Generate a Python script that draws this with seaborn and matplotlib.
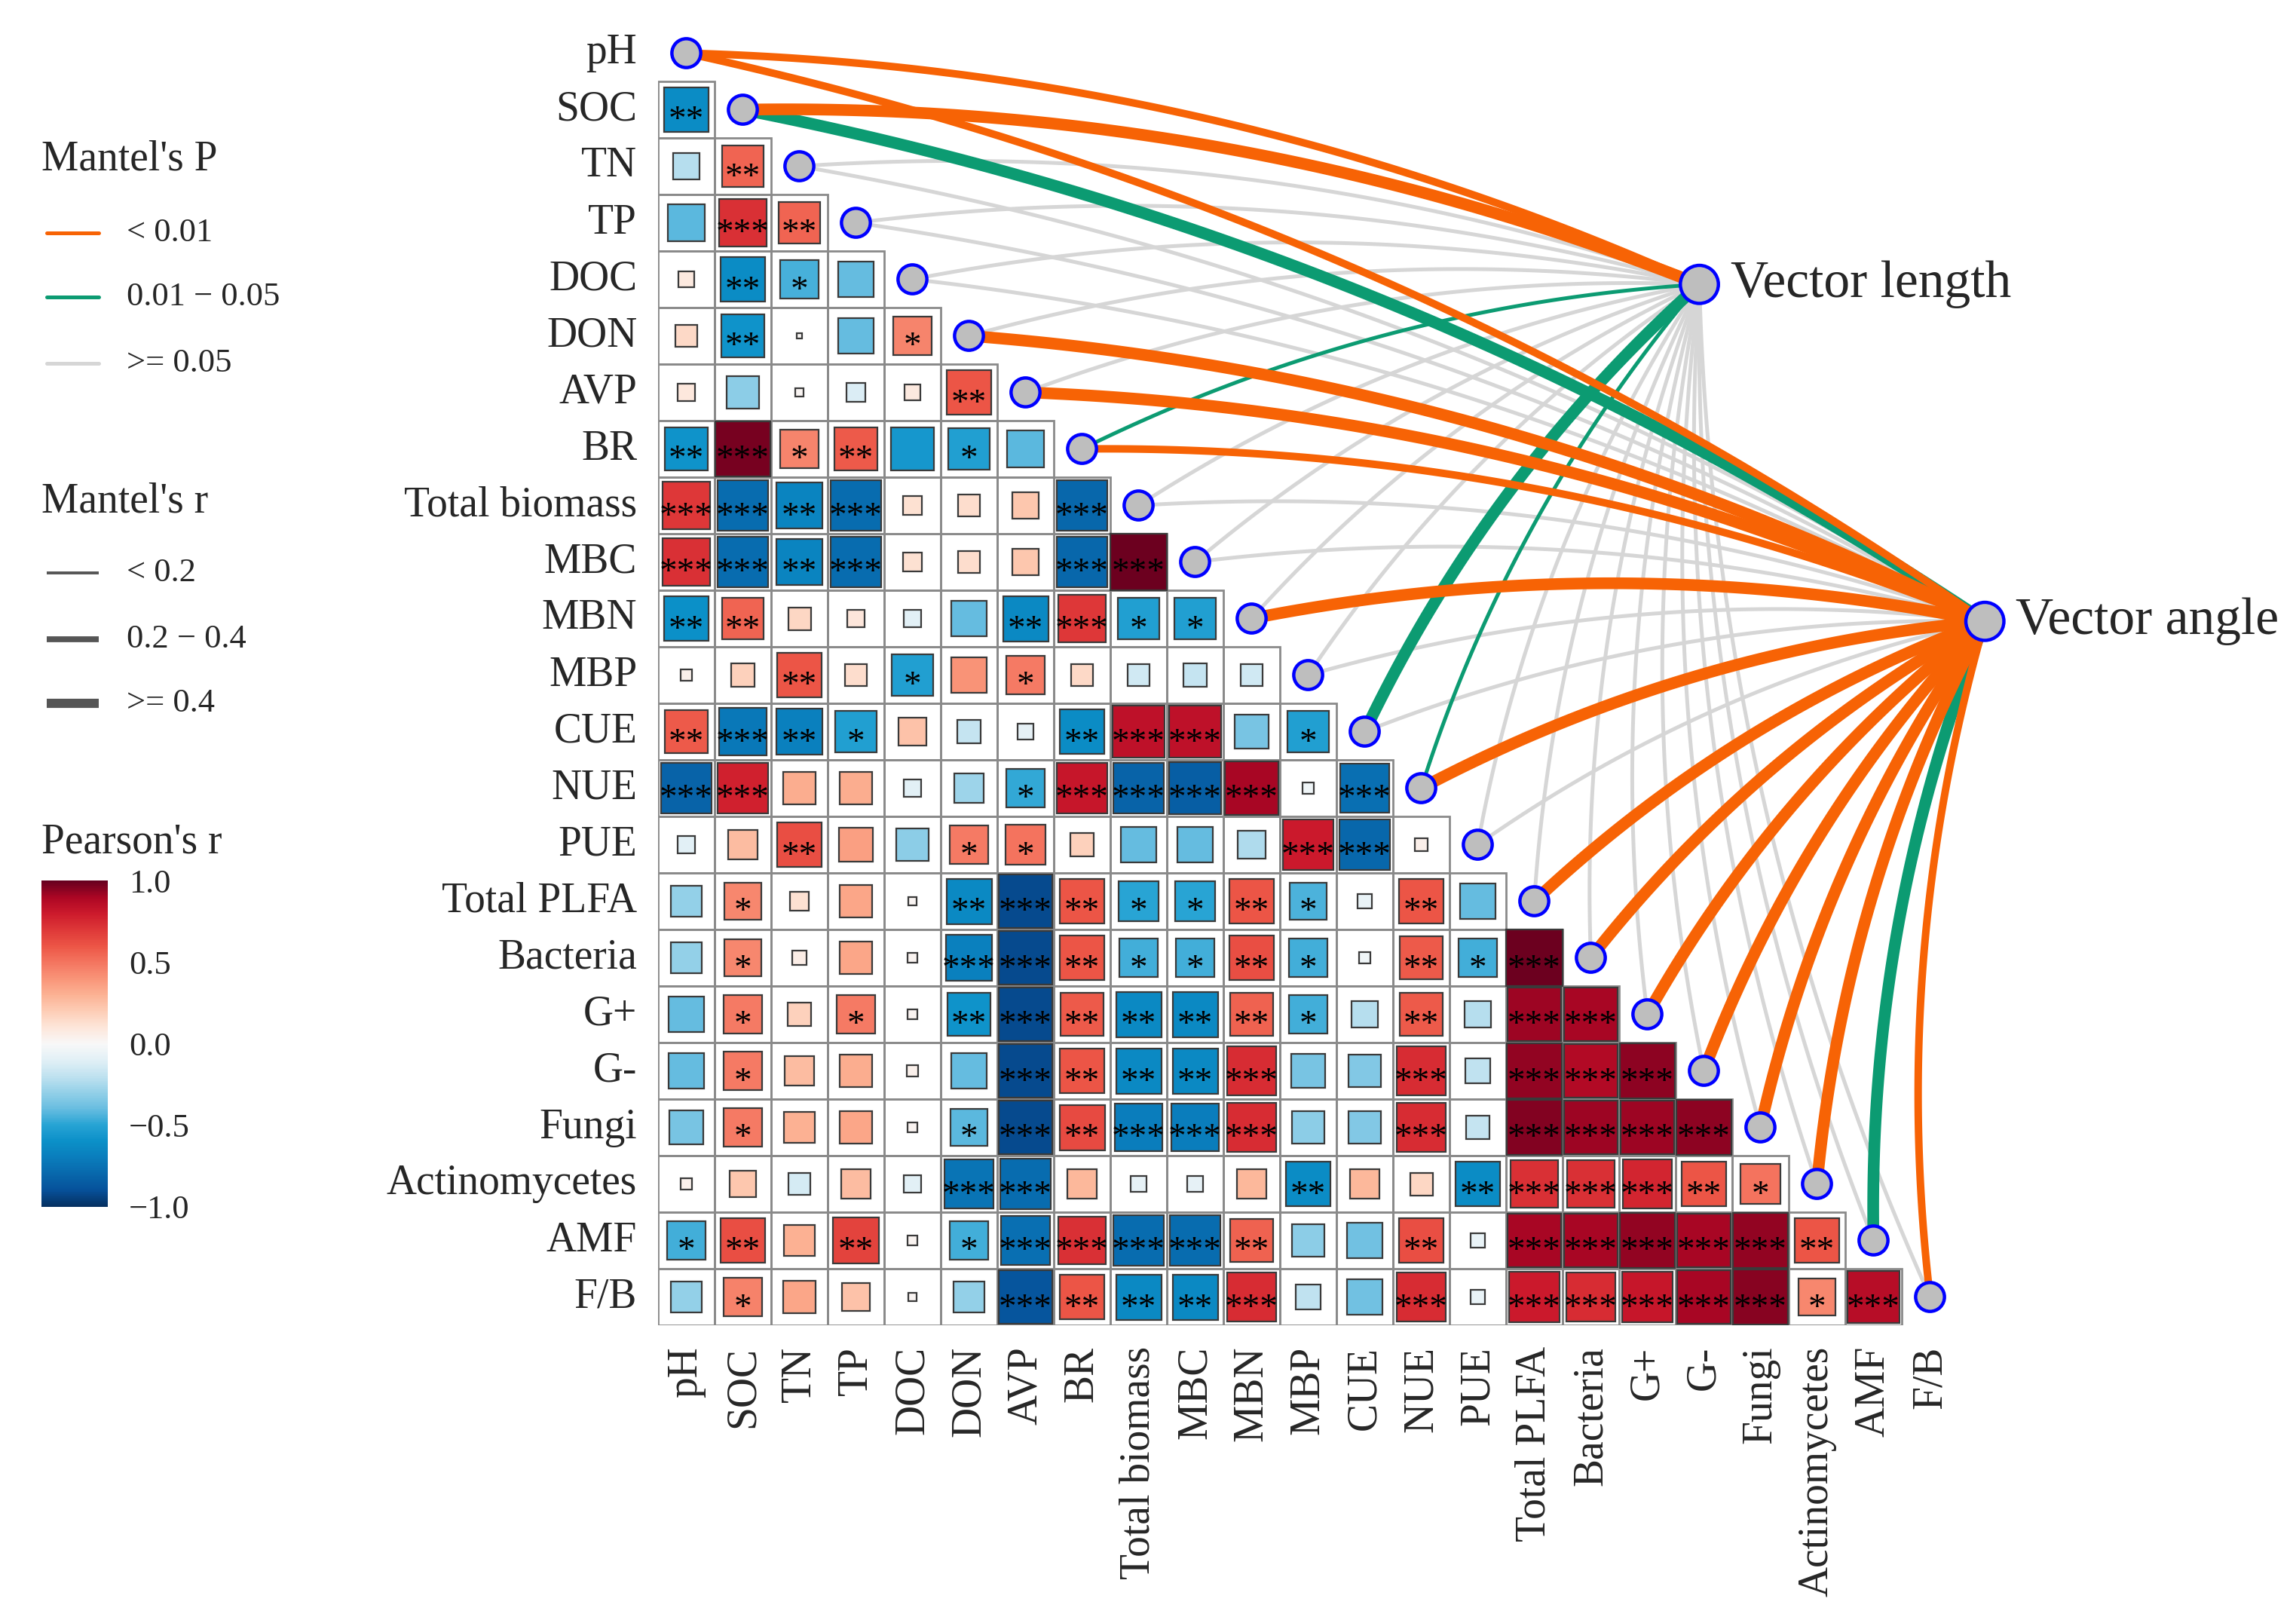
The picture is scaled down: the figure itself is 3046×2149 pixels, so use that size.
import numpy as np
import pandas as pd
import seaborn as sns
import matplotlib.pyplot as plt
from matplotlib.colors import ListedColormap, Normalize, LinearSegmentedColormap
from matplotlib.patches import Rectangle
from matplotlib.cm import ScalarMappable
from matplotlib.ticker import FuncFormatter

variables = ["pH", "SOC", "TN", "TP", "DOC", "DON", "AVP", "BR", "Total biomass",
             "MBC", "MBN", "MBP", "CUE", "NUE", "PUE", "Total PLFA", "Bacteria",
             "G+", "G-", "Fungi", "Actinomycetes", "AMF", "F/B"]

# Pearson's r, lower triangle, row by row (columns 0 .. row-1)
pearson_r = [
    [],
    [-0.62],
    [-0.22, 0.55],
    [-0.42, 0.72, 0.55],
    [0.08, -0.62, -0.45, -0.40],
    [0.15, -0.58, 0.01, -0.40, 0.45],
    [0.09, -0.32, 0.02, -0.12, 0.08, 0.60],
    [-0.58, 0.97, 0.45, 0.58, -0.56, -0.52, -0.42],
    [0.70, -0.78, -0.66, -0.78, 0.12, 0.14, 0.22, -0.80],
    [0.72, -0.78, -0.66, -0.78, 0.12, 0.14, 0.22, -0.80, 0.99],
    [-0.60, 0.55, 0.16, 0.10, -0.10, -0.40, -0.64, 0.70, -0.52, -0.52],
    [0.04, 0.18, 0.60, 0.14, -0.52, 0.40, 0.48, 0.15, -0.15, -0.18, -0.15],
    [0.58, -0.72, -0.68, -0.52, 0.24, -0.18, -0.08, -0.62, 0.84, 0.84, -0.36, -0.52],
    [-0.82, 0.78, 0.32, 0.32, -0.10, -0.28, -0.48, 0.82, -0.82, -0.84, 0.90, -0.04, -0.76],
    [-0.10, 0.26, 0.62, 0.36, -0.32, 0.48, 0.50, 0.18, -0.40, -0.40, -0.24, 0.80, -0.80, 0.05],
    [-0.30, 0.44, 0.12, 0.34, 0.02, -0.64, -0.92, 0.60, -0.50, -0.50, 0.60, -0.44, -0.07, 0.60, -0.40],
    [-0.30, 0.44, 0.06, 0.34, 0.03, -0.68, -0.92, 0.60, -0.46, -0.46, 0.62, -0.46, -0.04, 0.58, -0.46, 0.99],
    [-0.40, 0.48, 0.18, 0.48, 0.03, -0.58, -0.92, 0.58, -0.64, -0.64, 0.56, -0.46, -0.22, 0.58, -0.22, 0.92, 0.90],
    [-0.40, 0.48, 0.26, 0.32, 0.04, -0.40, -0.92, 0.60, -0.64, -0.64, 0.74, -0.36, -0.34, 0.74, -0.20, 0.93, 0.88, 0.94],
    [-0.36, 0.48, 0.30, 0.34, 0.03, -0.42, -0.92, 0.64, -0.70, -0.70, 0.74, -0.32, -0.34, 0.74, -0.18, 0.96, 0.92, 0.92, 0.94],
    [0.04, 0.22, -0.14, 0.26, -0.10, -0.74, -0.78, 0.28, -0.08, -0.08, 0.28, -0.62, 0.28, 0.16, -0.62, 0.72, 0.72, 0.76, 0.60, 0.50],
    [-0.46, 0.62, 0.30, 0.66, 0.03, -0.46, -0.76, 0.72, -0.78, -0.78, 0.56, -0.32, -0.38, 0.62, -0.07, 0.90, 0.90, 0.93, 0.90, 0.93, 0.60],
    [-0.30, 0.46, 0.34, 0.24, 0.02, -0.30, -0.88, 0.60, -0.64, -0.64, 0.74, -0.20, -0.38, 0.74, -0.07, 0.80, 0.74, 0.82, 0.90, 0.95, 0.44, 0.86],
]

# number of stars (0: ns, 1: p<0.05, 2: p<0.01, 3: p<0.001)
stars = [
    [],
    [2],
    [0, 2],
    [0, 3, 2],
    [0, 2, 1, 0],
    [0, 2, 0, 0, 1],
    [0, 0, 0, 0, 0, 2],
    [2, 3, 1, 2, 0, 1, 0],
    [3, 3, 2, 3, 0, 0, 0, 3],
    [3, 3, 2, 3, 0, 0, 0, 3, 3],
    [2, 2, 0, 0, 0, 0, 2, 3, 1, 1],
    [0, 0, 2, 0, 1, 0, 1, 0, 0, 0, 0],
    [2, 3, 2, 1, 0, 0, 0, 2, 3, 3, 0, 1],
    [3, 3, 0, 0, 0, 0, 1, 3, 3, 3, 3, 0, 3],
    [0, 0, 2, 0, 0, 1, 1, 0, 0, 0, 0, 3, 3, 0],
    [0, 1, 0, 0, 0, 2, 3, 2, 1, 1, 2, 1, 0, 2, 0],
    [0, 1, 0, 0, 0, 3, 3, 2, 1, 1, 2, 1, 0, 2, 1, 3],
    [0, 1, 0, 1, 0, 2, 3, 2, 2, 2, 2, 1, 0, 2, 0, 3, 3],
    [0, 1, 0, 0, 0, 0, 3, 2, 2, 2, 3, 0, 0, 3, 0, 3, 3, 3],
    [0, 1, 0, 0, 0, 1, 3, 2, 3, 3, 3, 0, 0, 3, 0, 3, 3, 3, 3],
    [0, 0, 0, 0, 0, 3, 3, 0, 0, 0, 0, 2, 0, 0, 2, 3, 3, 3, 2, 1],
    [1, 2, 0, 2, 0, 1, 3, 3, 3, 3, 2, 0, 0, 2, 0, 3, 3, 3, 3, 3, 2],
    [0, 1, 0, 0, 0, 0, 3, 2, 2, 2, 3, 0, 0, 3, 0, 3, 3, 3, 3, 3, 1, 3],
]

# Mantel tests against the two targets
mantel_targets = ["Vector length", "Vector angle"]
mantel_p_length = [0.002, 0.001, 0.35, 0.28, 0.42, 0.21, 0.18, 0.03, 0.46, 0.52, 0.14, 0.61,
                   0.02, 0.04, 0.33, 0.27, 0.31, 0.24, 0.29, 0.22, 0.38, 0.19, 0.26]
mantel_r_length = [0.32, 0.46, 0.05, 0.06, 0.03, 0.08, 0.09, 0.15, 0.02, 0.02, 0.10, 0.01,
                   0.42, 0.16, 0.04, 0.06, 0.05, 0.07, 0.06, 0.08, 0.04, 0.09, 0.07]
mantel_p_angle = [0.002, 0.02, 0.40, 0.30, 0.50, 0.001, 0.001, 0.004, 0.25, 0.30, 0.001, 0.20,
                  0.12, 0.001, 0.15, 0.001, 0.001, 0.001, 0.001, 0.001, 0.001, 0.015, 0.006]
mantel_r_angle = [0.30, 0.41, 0.08, 0.10, 0.05, 0.52, 0.50, 0.28, 0.12, 0.11, 0.55, 0.13,
                  0.14, 0.48, 0.12, 0.60, 0.58, 0.56, 0.55, 0.53, 0.47, 0.44, 0.33]

ORANGE = "#F76305"
GREEN = "#0C9B72"
GREY = "#D6D6D6"


def p_colour(p):
    if p < 0.01:
        return ORANGE
    if p < 0.05:
        return GREEN
    return GREY


def r_width(r):
    if r < 0.2:
        return 1.8
    if r < 0.4:
        return 3.6
    return 5.6


def curve(p0, p2, rad=0.1, n=80):
    # quadratic bezier bowing to the left of p0 -> p2 as seen on screen (y axis inverted)
    a = np.array([p0[0], -p0[1]])
    b = np.array([p2[0], -p2[1]])
    d = b - a
    c = (a + b) / 2 + rad * np.array([-d[1], d[0]])
    t = np.linspace(0, 1, n)[:, None]
    pts = (1 - t) ** 2 * a + 2 * t * (1 - t) * c + t ** 2 * b
    return pts[:, 0], -pts[:, 1]


if __name__ == "__main__":
    sns.set_theme(style="white")
    plt.rcParams['font.family'] = ['Liberation Serif', 'DejaVu Serif']

    n = len(variables)
    r_mat = np.zeros((n, n))
    s_mat = np.zeros((n, n), dtype=int)
    for i in range(n):
        for j, v in enumerate(pearson_r[i]):
            r_mat[i, j] = v
            s_mat[i, j] = stars[i][j]

    fig = plt.figure(figsize=(15.23, 10.745), dpi=200)
    ax = fig.add_axes([873 / 3046, 1 - 1758 / 2149, 1725 / 3046, 1725 / 2149])

    grid = pd.DataFrame(np.zeros((n, n)), index=variables, columns=variables)
    mask = np.triu(np.ones((n, n), dtype=bool))
    sns.heatmap(grid, mask=mask, cmap=ListedColormap(["white"]), cbar=False,
                linewidths=0, xticklabels=variables, yticklabels=variables, ax=ax)

    # r in [-1, 1] mapped linearly onto [0, 1]
    cmap = LinearSegmentedColormap.from_list("rdbu_ref", [
        (0.00, "#053061"), (0.05, "#06519a"), (0.10, "#0868ac"), (0.15, "#0a7dbc"),
        (0.20, "#0b90c8"), (0.25, "#27a3d4"), (0.30, "#68bde0"), (0.35, "#94d0e8"),
        (0.40, "#c0e2f0"), (0.45, "#e2f0f6"), (0.50, "#f8f8f8"), (0.55, "#fde6da"),
        (0.60, "#fdcdb6"), (0.65, "#fcb294"), (0.70, "#f99478"), (0.75, "#f47560"),
        (0.80, "#ec5546"), (0.85, "#de3838"), (0.90, "#cc1a2c"), (0.95, "#ac0624"),
        (1.00, "#67001f")])
    norm = Normalize(-1, 1)
    for i in range(n):
        for j in range(i):
            ax.add_patch(Rectangle((j, i), 1, 1, fill=False, edgecolor="#8a8a8a",
                                   linewidth=1.0, zorder=1.5))
            r = r_mat[i, j]
            side = np.sqrt(abs(r))
            ax.add_patch(Rectangle((j + 0.5 - side / 2, i + 0.5 - side / 2), side, side,
                                   facecolor=cmap(norm(r)), edgecolor="#3a3a3a",
                                   linewidth=0.8, zorder=2))
            if s_mat[i, j] > 0:
                ax.text(j + 0.5, i + 0.86, "*" * s_mat[i, j], ha="center", va="baseline",
                        fontsize=17, color="black", zorder=3)

    # Mantel links
    diag = {k: (k + 0.5, k + 0.5) for k in range(n)}
    target_pos = {"Vector length": (18.42, 4.59), "Vector angle": (23.47, 10.55)}
    links = []
    for k in range(n):
        links.append((k, "Vector length", mantel_p_length[k], mantel_r_length[k]))
        links.append((k, "Vector angle", mantel_p_angle[k], mantel_r_angle[k]))
    order = {GREY: 0, GREEN: 1, ORANGE: 2}
    links.sort(key=lambda l: order[p_colour(l[2])])
    for k, tgt, p, r in links:
        xs, ys = curve(diag[k], target_pos[tgt])
        ax.plot(xs, ys, color=p_colour(p), lw=r_width(r), solid_capstyle="butt",
                clip_on=False, zorder=4)

    nodes = pd.DataFrame({
        "x": [diag[k][0] for k in range(n)] + [target_pos[t][0] for t in mantel_targets],
        "y": [diag[k][1] for k in range(n)] + [target_pos[t][1] for t in mantel_targets],
        "kind": ["var"] * n + ["target"] * 2,
    })
    sns.scatterplot(data=nodes, x="x", y="y", size="kind", sizes={"var": 190, "target": 330},
                    color="#BEBEBE", edgecolor="#0000FF", linewidth=1.6, legend=False,
                    ax=ax, zorder=5)
    ax.collections[-1].set_clip_on(False)
    for t in mantel_targets:
        x, y = target_pos[t]
        ax.text(x + 0.55, y, t, ha="left", va="center", fontsize=25, clip_on=False)

    ax.set_xlim(0, n)
    ax.set_ylim(n, 0)
    ax.set_xlabel("")
    ax.set_ylabel("")
    ax.tick_params(length=0, pad=10)
    ax.set_xticklabels(variables, rotation=90, fontsize=20)
    ax.set_yticklabels(variables, rotation=0, fontsize=20)
    for sp in ax.spines.values():
        sp.set_visible(False)

    # legends (drawn in figure pixel space)
    lg = fig.add_axes([0, 0, 1, 1], zorder=-1)
    lg.set_xlim(0, 3046)
    lg.set_ylim(2149, 0)
    lg.axis("off")

    lg.text(55, 211, "Mantel's P", fontsize=20, va="center")
    for y, c, lab in [(309, ORANGE, "< 0.01"), (394, GREEN, "0.01 \u2212 0.05"),
                      (482, GREY, ">= 0.05")]:
        lg.plot([62, 131], [y, y], color=c, lw=1.8)
        lg.text(168, y, lab, fontsize=16, va="center")

    lg.text(55, 666, "Mantel's r", fontsize=20, va="center")
    for y, w, lab in [(760, 1.4, "< 0.2"), (848, 2.8, "0.2 \u2212 0.4"), (933, 4.4, ">= 0.4")]:
        lg.plot([62, 131], [y, y], color="#555555", lw=w, solid_capstyle="butt")
        lg.text(168, y, lab, fontsize=16, va="center")

    lg.text(55, 1117, "Pearson's r", fontsize=20, va="center")
    cax = fig.add_axes([55 / 3046, 1 - 1601 / 2149, 88 / 3046, 433 / 2149])
    cb = fig.colorbar(ScalarMappable(norm=norm, cmap=cmap), cax=cax,
                      ticks=[-1, -0.5, 0, 0.5, 1])
    cb.outline.set_visible(False)
    cb.ax.yaxis.set_major_formatter(FuncFormatter(lambda v, _: f"{v:.1f}".replace("-", "\u2212")))
    cb.ax.tick_params(left=True, right=True, direction="in", color="white", length=6,
                      width=1, labelsize=16, pad=10)

    fig.savefig("out.png", dpi=200)
